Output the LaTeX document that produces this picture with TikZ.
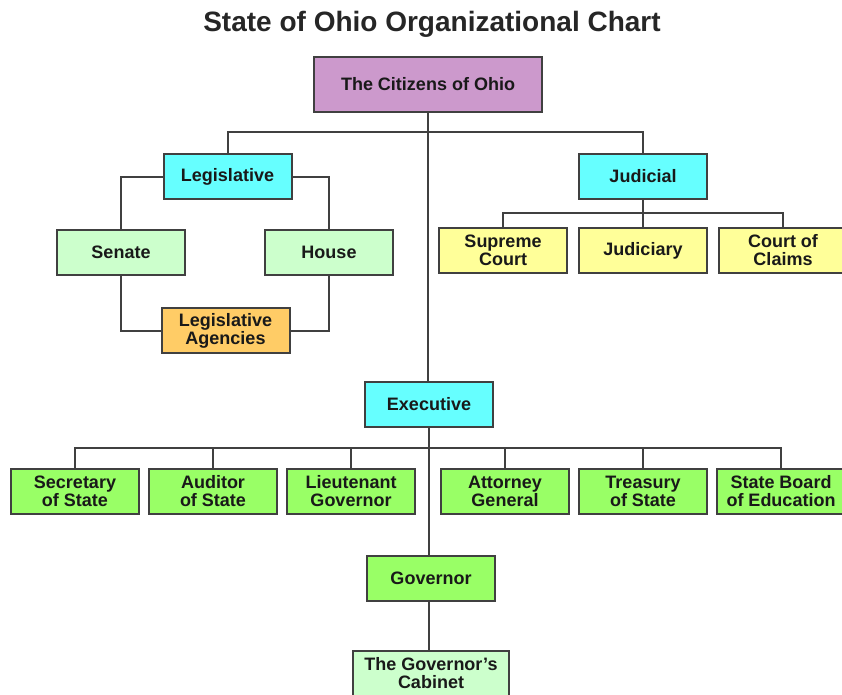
\documentclass[tikz,border=0pt]{standalone}
\usepackage{fontspec}
\setmainfont{Liberation Sans}
\usetikzlibrary{positioning,calc}
\definecolor{citpurple}{HTML}{CC99CC}
\definecolor{brcyan}{HTML}{66FFFF}
\definecolor{palegreen}{HTML}{CCFFCC}
\definecolor{agorange}{HTML}{FFCC66}
\definecolor{courtyellow}{HTML}{FFFF99}
\definecolor{offgreen}{HTML}{99FF66}

\begin{document}
\begin{tikzpicture}[x=1pt,y=-1pt,node distance=8pt]

\tikzstyle{unit}=[rectangle,draw=black!75,line width=2pt,minimum width=128pt,minimum height=45pt,inner sep=1pt,align=center,text=black!90,font=\bfseries\fontsize{18}{18}\selectfont]
\tikzstyle{citizens}=[unit,fill=citpurple,minimum width=228pt,minimum height=55pt]
\tikzstyle{branch}=[unit,fill=brcyan]
\tikzstyle{house}=[unit,fill=palegreen]
\tikzstyle{agency}=[unit,fill=agorange]
\tikzstyle{court}=[unit,fill=courtyellow]
\tikzstyle{office}=[unit,fill=offgreen]
\tikzstyle{link}=[line width=2pt,draw=black!75]

\useasboundingbox (0,0) rectangle (842,694);

\node (title) at (432,24) [font=\bfseries\fontsize{28}{30}\selectfont,text=black!85]{State of Ohio Organizational Chart};
\node (cit) at (428,84) [citizens]{The Citizens of Ohio};

% legislative side
\node (leg) at (227.5,176.5) [branch]{Legislative};
\node (sen) at (121,252.5) [house]{Senate};
\node (hou) at (329,252.5) [house]{House};
\node (agen) at (225.5,330.5) [agency]{Legislative\\Agencies};

% judicial side
\node (jud) at (643,176.5) [branch]{Judicial};
\node (judy) [court,below=27pt of jud]{Judiciary};
\node (sup) [court,left=10pt of judy]{Supreme\\Court};
\node (coc) [court,right=10pt of judy]{Court of\\Claims};

% executive side
\node (exe) at (429,404.5) [branch]{Executive};
\node (lt) at (351,491.5) [office]{Lieutenant\\Governor};
\node (aud) [office,left=of lt]{Auditor\\of State};
\node (sec) [office,left=of aud]{Secretary\\of State};
\node (att) at (505,491.5) [office]{Attorney\\General};
\node (tre) [office,right=of att]{Treasury\\of State};
\node (sbe) [office,right=of tre]{State Board\\of Education};
\node (gov) at (431,578.5) [office]{Governor};
\node (cab) at (431,673) [house,minimum width=156pt]{The Governor's\\Cabinet};

\coordinate (bar) at (428,132);
\coordinate (jbar) at (643,213);
\coordinate (ebar) at (429,448);

\draw[link] (cit.south -| bar) -- (exe.north -| bar);
\draw[link] (leg.north) |- (bar) -| (jud.north);
\draw[link] (leg.west) -| (sen.north);
\draw[link] (leg.east) -| (hou.north);
\draw[link] (sen.south) |- (agen.west);
\draw[link] (hou.south) |- (agen.east);
\draw[link] (jud.south) -- (judy.north);
\draw[link] (sup.north) |- (jbar) -| (coc.north);
\draw[link] (sec.north) |- (ebar) -| (sbe.north);
\foreach \o in {aud,lt,att,tre}
  \draw[link] (\o.north) -- (\o.north |- ebar);
\draw[link] (exe.south -| ebar) -- (gov.north -| ebar);
\draw[link] (gov.south -| ebar) -- (cab.north -| ebar);
\end{tikzpicture}
\end{document}
